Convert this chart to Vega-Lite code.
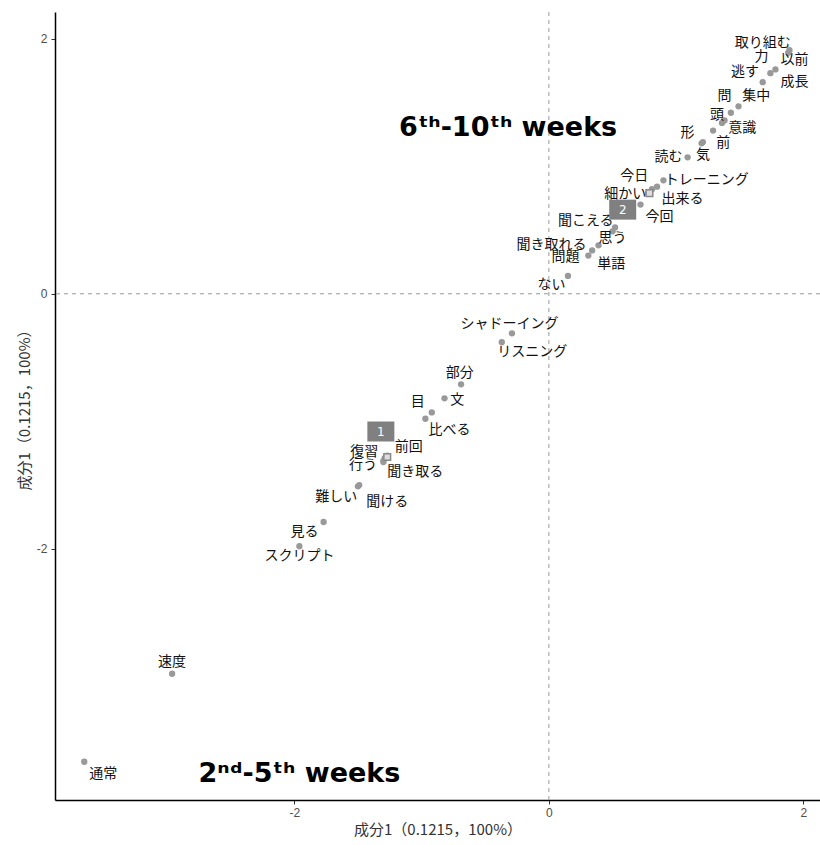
{
  "$schema": "https://vega.github.io/schema/vega-lite/v6.json",
  "width": 765,
  "height": 788,
  "autosize": {"type": "none"},
  "padding": {"left": 55, "top": 12, "right": 0, "bottom": 45},
  "background": "white",
  "config": {
    "view": {"stroke": null},
    "axis": {
      "grid": false,
      "domainColor": "#000000",
      "domainWidth": 1.5,
      "tickColor": "#333333",
      "tickSize": 4,
      "labelColor": "#4d4d4d",
      "labelFontSize": 12,
      "labelFont": "Liberation Sans",
      "titleFont": "Noto Sans CJK JP",
      "titleFontSize": 15,
      "titleFontWeight": "normal",
      "titleColor": "#333333"
    }
  },
  "datasets": {
    "words": [
      {"word": "取り組む", "x": 1.89, "y": 1.91, "lx": 1.68, "ly": 1.97},
      {"word": "以前", "x": 1.88, "y": 1.89, "lx": 1.93, "ly": 1.83},
      {"word": "力", "x": 1.78, "y": 1.76, "lx": 1.67, "ly": 1.86},
      {"word": "成長", "x": 1.74, "y": 1.73, "lx": 1.93, "ly": 1.66},
      {"word": "逃す", "x": 1.68, "y": 1.66, "lx": 1.54, "ly": 1.74},
      {"word": "集中", "x": 1.49, "y": 1.47, "lx": 1.63, "ly": 1.55},
      {"word": "問", "x": 1.43, "y": 1.42, "lx": 1.38, "ly": 1.55},
      {"word": "意識", "x": 1.38, "y": 1.36, "lx": 1.52, "ly": 1.30},
      {"word": "頭", "x": 1.36, "y": 1.34, "lx": 1.32, "ly": 1.40},
      {"word": "前", "x": 1.29, "y": 1.28, "lx": 1.37, "ly": 1.18},
      {"word": "形", "x": 1.20, "y": 1.18, "lx": 1.09, "ly": 1.26},
      {"word": "気", "x": 1.21, "y": 1.19, "lx": 1.21, "ly": 1.09},
      {"word": "読む", "x": 1.09, "y": 1.07, "lx": 0.94, "ly": 1.07},
      {"word": "トレーニング", "x": 0.90, "y": 0.89, "lx": 1.24, "ly": 0.89},
      {"word": "今日", "x": 0.85, "y": 0.84, "lx": 0.67, "ly": 0.92},
      {"word": "出来る", "x": 0.81, "y": 0.82, "lx": 1.05, "ly": 0.74},
      {"word": "細かい", "x": 0.78, "y": 0.79, "lx": 0.60, "ly": 0.78},
      {"word": "今回", "x": 0.72, "y": 0.70, "lx": 0.87, "ly": 0.60},
      {"word": "聞こえる", "x": 0.52, "y": 0.52, "lx": 0.29, "ly": 0.57},
      {"word": "思う", "x": 0.50, "y": 0.49, "lx": 0.50, "ly": 0.44},
      {"word": "聞き取れる", "x": 0.39, "y": 0.38, "lx": 0.02, "ly": 0.38},
      {"word": "単語", "x": 0.34, "y": 0.34, "lx": 0.49, "ly": 0.23},
      {"word": "問題", "x": 0.31, "y": 0.30, "lx": 0.13, "ly": 0.29},
      {"word": "ない", "x": 0.15, "y": 0.14, "lx": 0.02, "ly": 0.07},
      {"word": "シャドーイング", "x": -0.29, "y": -0.31, "lx": -0.31, "ly": -0.24},
      {"word": "リスニング", "x": -0.37, "y": -0.38, "lx": -0.13, "ly": -0.46},
      {"word": "部分", "x": -0.69, "y": -0.71, "lx": -0.70, "ly": -0.62},
      {"word": "文", "x": -0.82, "y": -0.82, "lx": -0.72, "ly": -0.83},
      {"word": "目", "x": -0.92, "y": -0.93, "lx": -1.03, "ly": -0.85},
      {"word": "比べる", "x": -0.97, "y": -0.98, "lx": -0.78, "ly": -1.07},
      {"word": "前回", "x": -1.27, "y": -1.27, "lx": -1.10, "ly": -1.20},
      {"word": "復習", "x": -1.29, "y": -1.29, "lx": -1.45, "ly": -1.24},
      {"word": "聞き取る", "x": -1.30, "y": -1.31, "lx": -1.05, "ly": -1.40},
      {"word": "行う", "x": -1.30, "y": -1.32, "lx": -1.46, "ly": -1.34},
      {"word": "難しい", "x": -1.49, "y": -1.50, "lx": -1.67, "ly": -1.59},
      {"word": "聞ける", "x": -1.50, "y": -1.51, "lx": -1.27, "ly": -1.63},
      {"word": "見る", "x": -1.77, "y": -1.79, "lx": -1.92, "ly": -1.87},
      {"word": "スクリプト", "x": -1.96, "y": -1.98, "lx": -1.96, "ly": -2.06},
      {"word": "速度", "x": -2.96, "y": -2.98, "lx": -2.96, "ly": -2.89},
      {"word": "通常", "x": -3.65, "y": -3.67, "lx": -3.50, "ly": -3.77}
    ],
    "groups": [
      {"group": "1", "x": -1.27, "y": -1.28, "lx": -1.32, "ly": -1.08},
      {"group": "2", "x": 0.79, "y": 0.79, "lx": 0.58, "ly": 0.66}
    ],
    "notes": [
      {"note": "6ᵗʰ-10ᵗʰ weeks", "lx": -0.32, "ly": 1.30},
      {"note": "2ⁿᵈ-5ᵗʰ weeks", "lx": -1.96, "ly": -3.77}
    ]
  },
  "encoding": {
    "x": {"type": "quantitative", "scale": {"domain": [-3.88, 2.13], "nice": false, "zero": false}},
    "y": {"type": "quantitative", "scale": {"domain": [-3.97, 2.21], "nice": false, "zero": false}}
  },
  "layer": [
    {
      "data": {"values": [{}]},
      "mark": {"type": "rule", "color": "#999999", "strokeDash": [4, 4], "strokeWidth": 1},
      "encoding": {"x": {"datum": 0, "type": "quantitative", "axis": {"values": [-2, 0, 2], "labelExpr": "'' + datum.value", "title": "成分1（0.1215，100%）", "titlePadding": 4, "labelPadding": 3}}}
    },
    {
      "data": {"values": [{}]},
      "mark": {"type": "rule", "color": "#999999", "strokeDash": [4, 4], "strokeWidth": 1},
      "encoding": {"y": {"datum": 0, "type": "quantitative", "axis": {"values": [-2, 0, 2], "labelExpr": "'' + datum.value", "title": "成分1（0.1215，100%）", "titlePadding": 4, "labelPadding": 4}}}
    },
    {
      "data": {"name": "words"},
      "mark": {"type": "point", "filled": true, "color": "#999999", "size": 40, "opacity": 1},
      "encoding": {"x": {"field": "x", "type": "quantitative"}, "y": {"field": "y", "type": "quantitative"}}
    },
    {
      "data": {"name": "words"},
      "mark": {"type": "text", "font": "Noto Sans CJK JP", "fontSize": 14, "color": "#111111"},
      "encoding": {
        "x": {"field": "lx", "type": "quantitative"},
        "y": {"field": "ly", "type": "quantitative"},
        "text": {"field": "word"}
      }
    },
    {
      "data": {"name": "groups"},
      "mark": {"type": "point", "shape": "square", "filled": true, "fill": "#dddddd", "stroke": "#888888", "strokeWidth": 1.5, "size": 45, "opacity": 1},
      "encoding": {"x": {"field": "x", "type": "quantitative"}, "y": {"field": "y", "type": "quantitative"}}
    },
    {
      "data": {"name": "groups"},
      "mark": {"type": "point", "shape": "M-1.35,-1H1.35V1H-1.35Z", "filled": true, "color": "#808080", "size": 400, "opacity": 1},
      "encoding": {"x": {"field": "lx", "type": "quantitative"}, "y": {"field": "ly", "type": "quantitative"}}
    },
    {
      "data": {"name": "groups"},
      "mark": {"type": "text", "font": "DejaVu Sans", "fontSize": 12, "color": "white"},
      "encoding": {
        "x": {"field": "lx", "type": "quantitative"},
        "y": {"field": "ly", "type": "quantitative"},
        "text": {"field": "group"}
      }
    },
    {
      "data": {"name": "notes"},
      "mark": {"type": "text", "font": "DejaVu Sans", "fontWeight": "bold", "fontSize": 27, "color": "#000000"},
      "encoding": {
        "x": {"field": "lx", "type": "quantitative"},
        "y": {"field": "ly", "type": "quantitative"},
        "text": {"field": "note"}
      }
    }
  ]
}
